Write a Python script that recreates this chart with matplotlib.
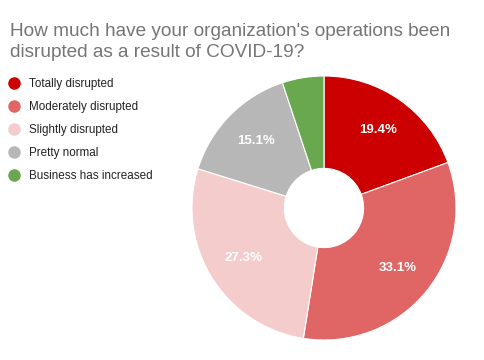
import matplotlib.pyplot as plt
from matplotlib.lines import Line2D

plt.rcParams['font.family'] = ['Liberation Sans', 'DejaVu Sans']

# data
labels = ['Totally disrupted', 'Moderately disrupted', 'Slightly disrupted',
          'Pretty normal', 'Business has increased']
values = [19.4, 33.1, 27.3, 15.1, 5.1]
colors = ['#cc0000', '#e06666', '#f4cccc', '#b7b7b7', '#6aa84f']
title = "How much have your organization's operations been\ndisrupted as a result of COVID-19?"

fig = plt.figure(figsize=(4.85, 3.6), dpi=100)

# donut
ax = fig.add_axes([192 / 485, 20 / 360, 264 / 485, 264 / 360])
wedges, texts, autotexts = ax.pie(
    values, colors=colors, startangle=90, counterclock=False,
    autopct=lambda p: f'{p:.1f}%' if p > 10 else '', pctdistance=0.72,
    wedgeprops=dict(width=0.7, edgecolor='white', linewidth=0.8),
    textprops=dict(color='white', fontsize=9.5, fontweight='bold'))
ax.set_xlim(-1, 1)
ax.set_ylim(-1, 1)
ax.set_aspect('equal')

# title
fig.text(10 / 485, 1 - 23 / 360, title, ha='left', va='top',
         fontsize=13.7, color='#757575', linespacing=1.3)

# legend
handles = [Line2D([], [], marker='o', linestyle='none', markersize=8,
                  markerfacecolor=c, markeredgecolor=c) for c in colors]
leg = fig.legend(handles, labels, loc='upper left',
                 bbox_to_anchor=(1 / 485, 1 - 73 / 360), frameon=False,
                 fontsize=8.4, labelspacing=0.95, handletextpad=0.5,
                 handlelength=1.5, borderaxespad=0)
for t in leg.get_texts():
    t.set_color('#222222')

fig.savefig('out.png', dpi=100)
